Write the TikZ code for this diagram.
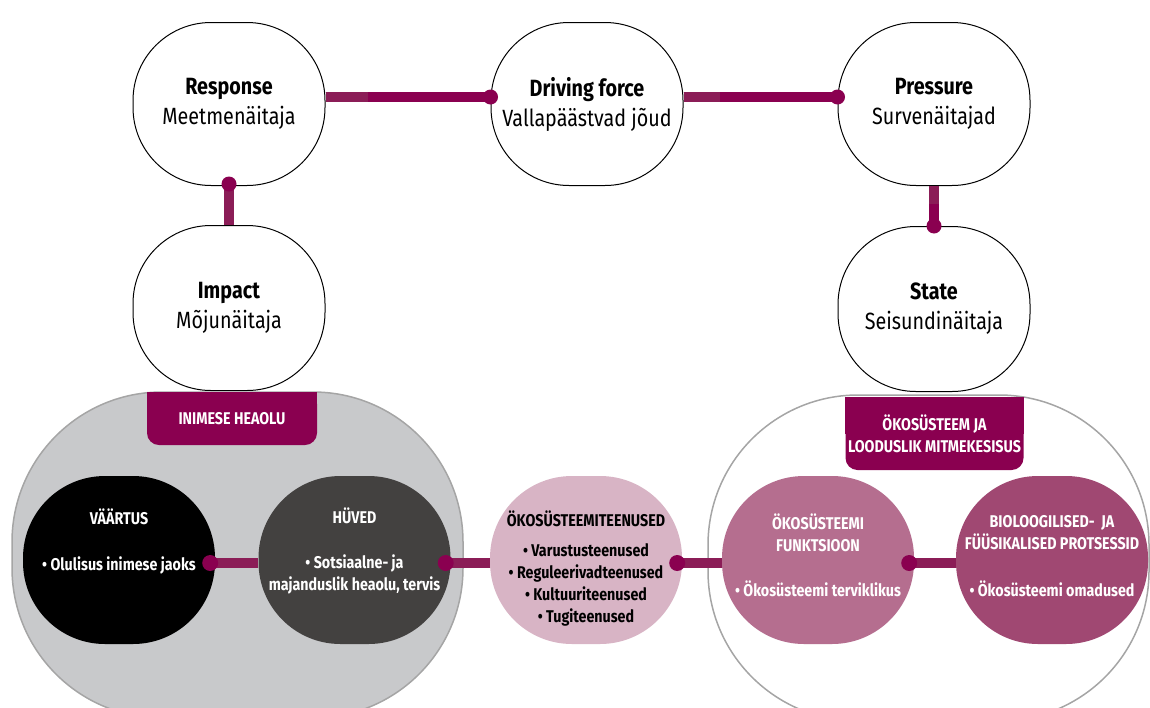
\documentclass[tikz,border=0pt]{standalone}
\usepackage{fontspec}
\setmainfont{Fira Sans}[FakeStretch=0.84]
\usepackage{tikz}
\usepackage{xcolor}

\definecolor{plum}{HTML}{8A0050}
\definecolor{plumlink}{HTML}{8B1D57}
\definecolor{heaolugray}{HTML}{C8C9CB}
\definecolor{rimgray}{HTML}{A5A5A5}
\definecolor{huvedgray}{HTML}{434140}
\definecolor{teenusedpink}{HTML}{D8B4C5}
\definecolor{funktsioonpink}{HTML}{B56E8F}
\definecolor{protsessplum}{HTML}{A04872}

\tikzset{
  dpsir/.style={draw=black,line width=1pt,fill=white,minimum width=192pt,minimum height=163pt,
    rounded corners=78pt,align=center,font=\fontsize{23.5}{30}\selectfont},
  holder/.style={draw=rimgray,line width=1.5pt,minimum height=326pt,rounded corners=150pt},
  tab/.style={fill=plum,rounded corners=12pt},
  tabtext/.style={text=white,align=center,font=\bfseries\fontsize{17}{22}\selectfont},
  eco/.style={minimum width=192pt,minimum height=168pt,rounded corners=82pt},
  ecotext/.style={text=white,align=center,font=\bfseries\fontsize{17}{22}\selectfont},
  link/.style={line width=10pt,draw=plumlink},
  mainlink/.style={line width=10pt,draw=plum},
  dot/.style={fill=plum},
}

\begin{document}
\begin{tikzpicture}[x=1pt,y=-1pt]
\useasboundingbox (0,0) rectangle (1150,707);

% top row
\node[dpsir] (response) at (229,104) {\textbf{Response}\\Meetmenäitaja};
\node[dpsir] (driving) at (587,104) {\textbf{Driving force}\\Vallapäästvad jõud};
\node[dpsir] (pressure) at (934,104) {\textbf{Pressure}\\Survenäitajad};
\node[dpsir,minimum height=165pt] (impact) at (229,308) {\textbf{Impact}\\Mõjunäitaja};
\node[dpsir,minimum height=165pt] (state) at (934,309) {\textbf{State}\\Seisundinäitaja};

\draw[mainlink] ([yshift=7pt]response.east) -- ([yshift=7pt]driving.west);
\draw[link] ([yshift=7pt]response.east) -- ([xshift=42pt,yshift=7pt]response.east);
\draw[mainlink] ([yshift=7pt]driving.east) -- ([yshift=7pt]pressure.west);
\draw[link] ([yshift=7pt]driving.east) -- ([xshift=36pt,yshift=7pt]driving.east);
\draw[link] (response.south) -- (impact.north);
\draw[mainlink] (pressure.south) -- (state.north);
\draw[link] (pressure.south) -- ([yshift=-18pt]pressure.south);
\fill[dot] ([yshift=7pt]driving.west) circle (7.5pt);
\fill[dot] ([yshift=7pt]pressure.west) circle (7.5pt);
\fill[dot] ([yshift=2pt]response.south) circle (7.5pt);
\fill[dot] (state.north) circle (7.5pt);

% the two groups
\node[holder,fill=heaolugray,minimum width=451pt] (heaolu) at (237.5,555) {};
\node[holder,fill=white,minimum width=441pt] (okosusteem) at (928.5,558) {};

\node[tab,minimum width=170pt,minimum height=53pt] (heaolutab) at (232,418.5) {};
\fill[plum] (heaolutab.north west) rectangle (heaolutab.east);
\node[tabtext] (heaolutitle) at (heaolutab) {INIMESE HEAOLU};
\node[tab,minimum width=178pt,minimum height=73pt] (okotab) at (934.5,433.5) {};
\fill[plum] (okotab.north west) rectangle (okotab.east);
\node[tabtext] (okotitle) at (okotab) {ÖKOSÜSTEEM JA\\LOODUSLIK MITMEKESISUS};

% bottom row
\node[eco,fill=black] (vaartus) at (119,560) {};
\node[eco,fill=huvedgray] (huved) at (354.5,560) {};
\node[eco,fill=teenusedpink] (teenused) at (586,560) {};
\node[eco,fill=funktsioonpink] (funktsioon) at (818,560) {};
\node[eco,fill=protsessplum] (protsess) at (1052,560) {};

\draw[link] ([yshift=-3pt]vaartus.east) -- ([yshift=-3pt]huved.west);
\draw[link] ([yshift=-3pt]huved.east) -- ([yshift=-3pt]teenused.west);
\draw[link] ([yshift=-3pt]teenused.east) -- ([yshift=-3pt]funktsioon.west);
\draw[link] ([yshift=-3pt]funktsioon.east) -- ([yshift=-3pt]protsess.west);
\fill[dot] ([xshift=-5pt,yshift=-3pt]vaartus.east) circle (8pt);
\fill[dot] ([xshift=-5pt,yshift=-3pt]huved.east) circle (8pt);
\fill[dot] ([xshift=-5pt,yshift=-3pt]teenused.east) circle (8pt);
\fill[dot] ([xshift=-5pt,yshift=-3pt]funktsioon.east) circle (8pt);

\node[ecotext] (vaartustext) at (119,542) {VÄÄRTUS\\[24pt]• Olulisus inimese jaoks};
\node[ecotext] (huvedtext) at (354.5,551) {HÜVED\\[23pt]• Sotsiaalne- ja\\majanduslik heaolu, tervis};
\node[ecotext,text=black] (teenusedtext) at (586,569) {ÖKOSÜSTEEMITEENUSED\\[8pt]• Varustusteenused\\• Reguleerivadteenused\\• Kultuuriteenused\\• Tugiteenused};
\node[ecotext] (funktsioontext) at (818,555) {ÖKOSÜSTEEMI\\FUNKTSIOON\\[23pt]• Ökosüsteemi terviklikus};
\node[ecotext] (protsesstext) at (1052,556) {BIOLOOGILISED-\ \ JA\\FÜÜSIKALISED PROTSESSID\\[25pt]• Ökosüsteemi omadused};
\end{tikzpicture}
\end{document}
